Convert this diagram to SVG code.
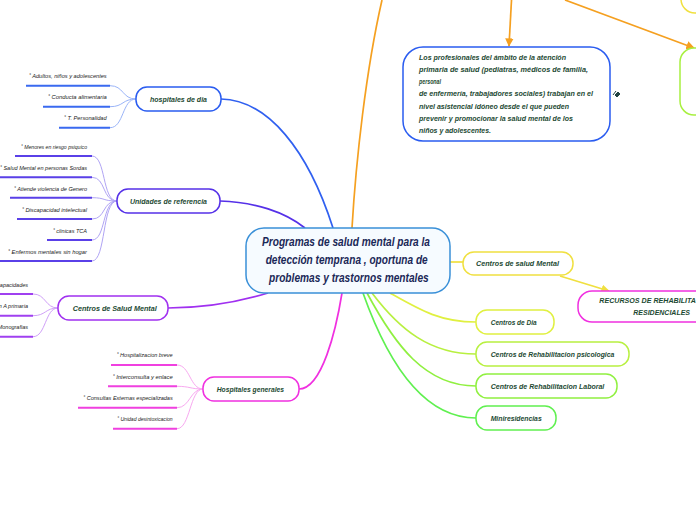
<svg xmlns="http://www.w3.org/2000/svg" width="696" height="520" viewBox="0 0 696 520">
<defs>
<style>
text{font-family:"Liberation Sans",Arial,sans-serif;font-style:italic}
.lbl{font-weight:bold;font-size:8px;fill:#1d4a33}
.sm{font-size:5.5px;fill:#222}
.ctr{font-size:12px;font-weight:bold;fill:#1b2857}
.node{fill:#fff;stroke-width:1.5}
.main{fill:none;stroke-width:1.7}
.sub{fill:none;stroke-width:1}
.ul{fill:none;stroke-width:2}
</style>
<marker id="ao" viewBox="0 0 10 10" refX="9" refY="5" markerWidth="5" markerHeight="5" orient="auto"><path d="M0,0 L10,5 L0,10 z" fill="#f5a020"/></marker>
<marker id="ay" viewBox="0 0 10 10" refX="9" refY="5" markerWidth="5" markerHeight="5" orient="auto"><path d="M0,0 L10,5 L0,10 z" fill="#f0e040"/></marker>
</defs>
<rect width="696" height="520" fill="#fff"/>

<g id="connectors">
<path class="main" stroke="#3060f0" d="M221,99 C268,100 308,150 333,228"/>
<path class="main" stroke="#5530e8" d="M220,201 C255,202 285,212 305,228"/>
<path class="main" stroke="#a030f0" d="M168,308 C210,308 245,300 268,293"/>
<path class="main" stroke="#f030e0" d="M299,389 C322,389 336,330 342,293"/>
<path class="main" stroke="#f5a020" d="M352,228 C356,160 366,70 382,0"/>
<path class="main" stroke="#f0e040" d="M450,262 L463,262"/>
<path class="main" stroke="#e0f040" d="M390,293 C420,310 440,322 476,322"/>
<path class="main" stroke="#b8f040" d="M372,293 C400,330 430,354 476,354"/>
<path class="main" stroke="#90f040" d="M367,293 C395,345 425,386 476,386"/>
<path class="main" stroke="#60f050" d="M363,293 C385,355 420,418 476,418"/>
<path class="main" stroke="#f5a020" d="M511.5,0 L509,46" marker-end="url(#ao)"/>
<path class="main" stroke="#f5a020" d="M565,0 L694,48" marker-end="url(#ao)"/>
<path class="main" stroke="#f0e040" d="M560,276 L609,291" marker-end="url(#ay)"/>
<g stroke="#9ab4f8">
<path class="sub" d="M136,99 C122,99 124,85.7 110,85.7"/>
<path class="sub" d="M136,99 C122,99 124,106.7 110,106.7"/>
<path class="sub" d="M136,99 C122,99 124,127.7 110,127.7"/>
</g>
<g stroke="#b0a4f4">
<path class="sub" d="M117,201 C102,201 106,156 92,156"/>
<path class="sub" d="M117,201 C102,201 106,177.3 92,177.3"/>
<path class="sub" d="M117,201 C102,201 106,197.7 92,197.7"/>
<path class="sub" d="M117,201 C102,201 106,219 92,219"/>
<path class="sub" d="M117,201 C102,201 106,240 92,240"/>
<path class="sub" d="M117,201 C102,201 106,261 92,261"/>
</g>
<g stroke="#d0a0f8">
<path class="sub" d="M58,308 C45,308 46,294 33,294"/>
<path class="sub" d="M58,308 C45,308 46,315.7 33,315.7"/>
<path class="sub" d="M58,308 C45,308 46,336.7 33,336.7"/>
</g>
<g stroke="#f8a8f0">
<path class="sub" d="M203,389 C190,389 190,365 177,365"/>
<path class="sub" d="M203,389 C190,389 190,386.3 177,386.3"/>
<path class="sub" d="M203,389 C190,389 190,407.7 177,407.7"/>
<path class="sub" d="M203,389 C190,389 190,428.7 177,428.7"/>
</g>
</g>

<g id="central">
<rect x="246" y="228" width="204" height="65" rx="18" fill="#f6fbff" stroke="#3a90d8" stroke-width="1.5"/>
<text class="ctr" x="262" y="245.5" textLength="168" lengthAdjust="spacingAndGlyphs">Programas de salud mental para la</text>
<text class="ctr" x="265.7" y="263.5" textLength="162" lengthAdjust="spacingAndGlyphs">detección temprana , oportuna de</text>
<text class="ctr" x="269" y="281.5" textLength="159.7" lengthAdjust="spacingAndGlyphs">problemas y trastornos mentales</text>
</g>

<g id="hospitales-de-dia">
<rect class="node" x="136" y="87" width="85" height="24" rx="11" stroke="#2a5cf0"/>
<text class="lbl" x="150" y="102" textLength="57" lengthAdjust="spacingAndGlyphs">hospitales de dia</text>
<path class="ul" stroke="#3a6af0" d="M26,85.7 H110 M43,106.7 H110 M59,127.7 H110"/>
<text class="sm" x="106.7" y="78" text-anchor="end" textLength="77.7" lengthAdjust="spacingAndGlyphs">˚ Adultos, niños y adolescentes</text>
<text class="sm" x="106.7" y="99" text-anchor="end" textLength="58.7" lengthAdjust="spacingAndGlyphs">˚ Conducta alimentaria</text>
<text class="sm" x="106.7" y="120.3" text-anchor="end" textLength="42.7" lengthAdjust="spacingAndGlyphs">˚ T. Personalidad</text>
</g>

<g id="unidades-de-referencia">
<rect class="node" x="117" y="189" width="103" height="24" rx="11" stroke="#5530e8"/>
<text class="lbl" x="130" y="204" textLength="77" lengthAdjust="spacingAndGlyphs">Unidades de referencia</text>
<path class="ul" stroke="#5a40e8" d="M15,156 H92 M0,177.3 H92 M10,197.7 H92 M17,219 H92 M47,240 H92 M0,261 H92"/>
<text class="sm" x="87" y="149.3" text-anchor="end" textLength="66" lengthAdjust="spacingAndGlyphs">˚ Menores en riesgo psiquico</text>
<text class="sm" x="87" y="170" text-anchor="end" textLength="87" lengthAdjust="spacingAndGlyphs">˚ Salud Mental en personas Sordas</text>
<text class="sm" x="87" y="190.7" text-anchor="end" textLength="73" lengthAdjust="spacingAndGlyphs">˚ Atiende violencia de Genero</text>
<text class="sm" x="87" y="211.7" text-anchor="end" textLength="65" lengthAdjust="spacingAndGlyphs">˚ Discapacidad intelectual</text>
<text class="sm" x="87" y="232.7" text-anchor="end" textLength="34" lengthAdjust="spacingAndGlyphs">˚ clinicas TCA</text>
<text class="sm" x="87" y="254" text-anchor="end" textLength="79" lengthAdjust="spacingAndGlyphs">˚ Enfermos mentales sin hogar</text>
</g>

<g id="centros-de-salud-mental-izq">
<rect class="node" x="58" y="296" width="110" height="24" rx="11" stroke="#a030f0"/>
<text class="lbl" x="72.7" y="310.5" textLength="84" lengthAdjust="spacingAndGlyphs">Centros de Salud Mental</text>
<path class="ul" stroke="#a040f0" d="M0,294 H33 M0,315.7 H33 M0,336.7 H33"/>
<text class="sm" x="28" y="286.7" text-anchor="end">˚ Discapacidades</text>
<text class="sm" x="28" y="307.7" text-anchor="end">˚ Coordinacion con A primaria</text>
<text class="sm" x="28" y="329" text-anchor="end">˚ Monografias</text>
</g>

<g id="hospitales-generales">
<rect class="node" x="203" y="377" width="96" height="24" rx="11" stroke="#f030e0"/>
<text class="lbl" x="216.7" y="392.3" textLength="67.3" lengthAdjust="spacingAndGlyphs">Hospitales generales</text>
<path class="ul" stroke="#f040e0" d="M111,365 H177 M108,386.3 H177 M78,407.7 H177 M113,428.7 H177"/>
<text class="sm" x="172.7" y="357.3" text-anchor="end" textLength="56" lengthAdjust="spacingAndGlyphs">˚ Hospitalizacion breve</text>
<text class="sm" x="172.7" y="378.7" text-anchor="end" textLength="60" lengthAdjust="spacingAndGlyphs">˚ Interconsulta y enlace</text>
<text class="sm" x="172.7" y="400" text-anchor="end" textLength="89.4" lengthAdjust="spacingAndGlyphs">˚ Consultas Externas especializadas</text>
<text class="sm" x="172.7" y="421" text-anchor="end" textLength="55.4" lengthAdjust="spacingAndGlyphs">˚ Unidad desintoxicacion</text>
</g>

<g id="profesionales">
<rect class="node" x="403" y="47" width="207" height="94" rx="20" stroke="#2a5cf0"/>
<text class="lbl" x="419" y="59.5" textLength="147" lengthAdjust="spacingAndGlyphs">Los profesionales del ámbito de la atención</text>
<text class="lbl" x="419" y="71.8" textLength="169" lengthAdjust="spacingAndGlyphs">primaria de salud (pediatras, médicos de familia,</text>
<text class="lbl" x="419" y="84.1" textLength="22" lengthAdjust="spacingAndGlyphs">personal</text>
<text class="lbl" x="419" y="96.4" textLength="174" lengthAdjust="spacingAndGlyphs">de enfermería, trabajadores sociales) trabajan en el</text>
<text class="lbl" x="419" y="108.7" textLength="150" lengthAdjust="spacingAndGlyphs">nivel asistencial idóneo desde el que pueden</text>
<text class="lbl" x="419" y="121" textLength="154" lengthAdjust="spacingAndGlyphs">prevenir y promocionar la salud mental de los</text>
<text class="lbl" x="419" y="133.3" textLength="72" lengthAdjust="spacingAndGlyphs">niños y adolescentes.</text>
<path d="M613,95 L616,91 M615,95 L618,92 L620,94 L617,97 Z" fill="#244" stroke="#244" stroke-width="1"/>
</g>

<g id="nodo-amarillo-superior">
<rect class="node" x="681" y="-30" width="60" height="43" rx="14" stroke="#f0e040"/>
</g>
<g id="nodo-verde-derecho">
<rect class="node" x="680" y="48" width="60" height="67" rx="14" stroke="#a8f040"/>
</g>

<g id="centros-de-salud-mental-der">
<rect class="node" x="463" y="252" width="110" height="23" rx="11" stroke="#f0e040"/>
<text class="lbl" x="476" y="266" textLength="83" lengthAdjust="spacingAndGlyphs">Centros de salud Mental</text>
</g>

<g id="recursos">
<rect class="node" x="578" y="291" width="140" height="31" rx="14" stroke="#f030e0"/>
<text class="lbl" x="599.3" y="302.7" textLength="114.4" lengthAdjust="spacingAndGlyphs">RECURSOS DE REHABILITACION</text>
<text class="lbl" x="633.3" y="315" textLength="56.7" lengthAdjust="spacingAndGlyphs">RESIDENCIALES</text>
</g>

<g id="centros-de-dia">
<rect class="node" x="476" y="310" width="78" height="24" rx="11" stroke="#e0f040"/>
<text class="lbl" x="490.7" y="325" textLength="46" lengthAdjust="spacingAndGlyphs">Centros de Dia</text>
</g>
<g id="rehab-psicologica">
<rect class="node" x="476" y="342" width="153" height="24" rx="11" stroke="#b8f040"/>
<text class="lbl" x="490.7" y="357" textLength="123.6" lengthAdjust="spacingAndGlyphs">Centros de Rehabilitacion psicologica</text>
</g>
<g id="rehab-laboral">
<rect class="node" x="476" y="374" width="141" height="24" rx="11" stroke="#90f040"/>
<text class="lbl" x="490.7" y="389" textLength="113.6" lengthAdjust="spacingAndGlyphs">Centros de Rehabilitacion Laboral</text>
</g>
<g id="miniresidencias">
<rect class="node" x="476" y="406" width="80" height="24" rx="11" stroke="#60f050"/>
<text class="lbl" x="490.7" y="421" textLength="51" lengthAdjust="spacingAndGlyphs">Miniresidencias</text>
</g>
</svg>
